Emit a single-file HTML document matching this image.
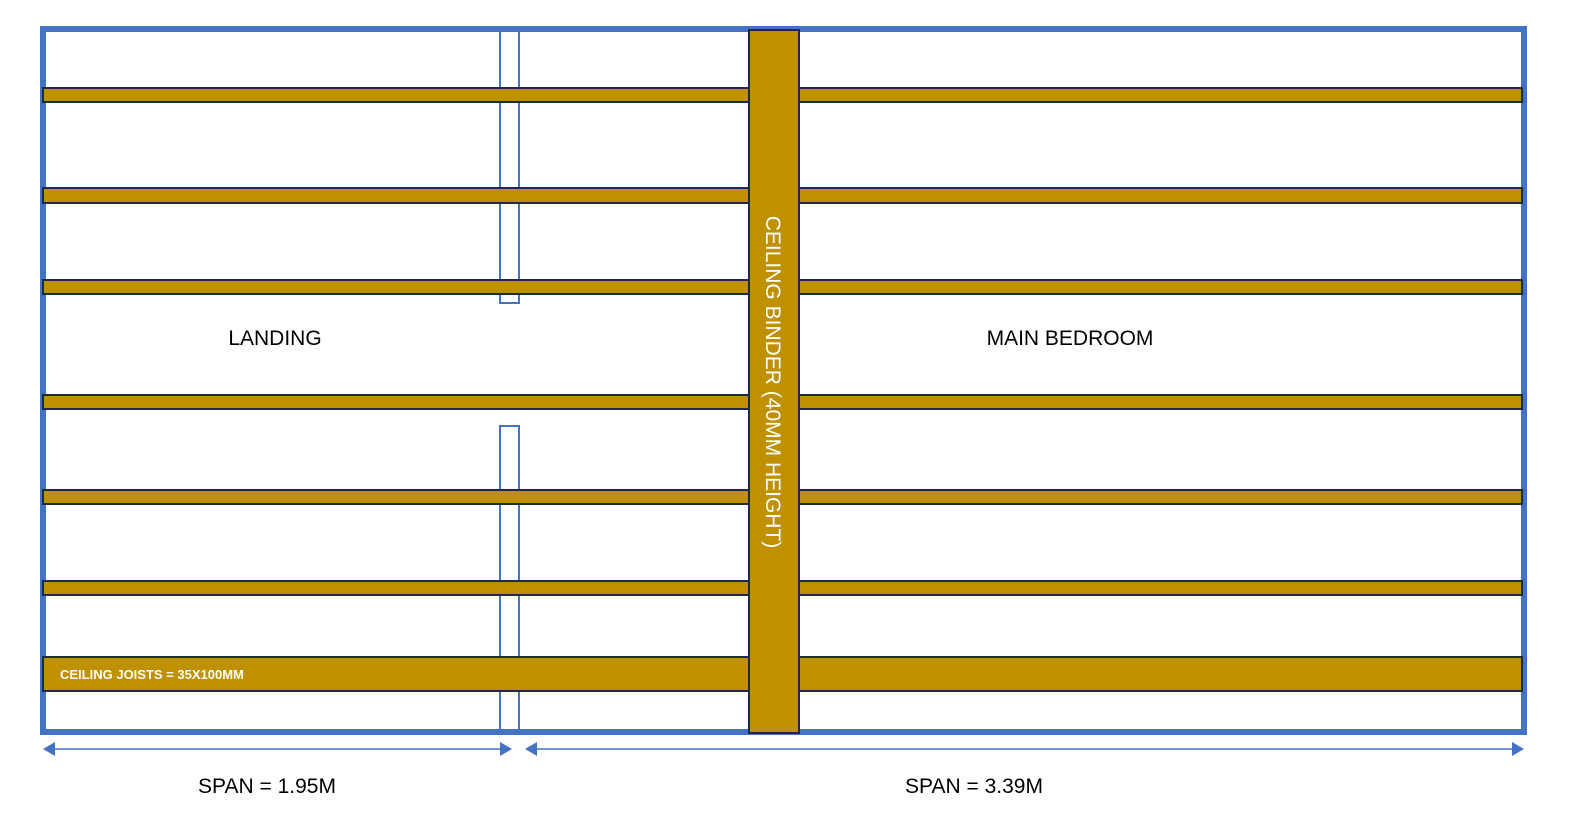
<!DOCTYPE html>
<html><head><meta charset="utf-8"><style>
html,body{margin:0;padding:0;background:#fff;width:1570px;height:829px;overflow:hidden}
svg{display:block}
text{font-family:"Liberation Sans",sans-serif}
</style></head><body>
<svg width="1570" height="829" viewBox="0 0 1570 829">
<rect x="43" y="29" width="1481" height="703" fill="none" stroke="#4472c4" stroke-width="6"/>
<rect x="500" y="31" width="19" height="272" fill="none" stroke="#4472c4" stroke-width="2"/>
<rect x="500" y="426" width="19" height="304" fill="none" stroke="#4472c4" stroke-width="2"/>
<g fill="#bf9000" stroke="#1b2a4a" stroke-width="2">
<rect x="43" y="88" width="1479" height="14"/>
<rect x="43" y="188" width="1479" height="15"/>
<rect x="43" y="280" width="1479" height="14"/>
<rect x="43" y="395" width="1479" height="14"/>
<rect x="43" y="490" width="1479" height="14"/>
<rect x="43" y="581" width="1479" height="14"/>
<rect x="43" y="657" width="1479" height="34"/>
<rect x="749" y="30" width="50" height="703"/>
</g>
<text x="60" y="679" font-size="13" font-weight="bold" fill="#fff">CEILING JOISTS = 35X100MM</text>
<text transform="translate(766,382) rotate(90)" text-anchor="middle" font-size="21" fill="#fff">CEILING BINDER (40MM HEIGHT)</text>
<text x="275" y="345" text-anchor="middle" font-size="21" fill="#000">LANDING</text>
<text x="1070" y="345" text-anchor="middle" font-size="21" fill="#000">MAIN BEDROOM</text>
<g stroke="#4472c4" stroke-width="1.5">
<line x1="52" y1="749" x2="502" y2="749"/>
<line x1="536" y1="749" x2="1514" y2="749"/>
</g>
<g fill="#4472c4">
<polygon points="43,749 55,742 55,756"/>
<polygon points="512,749 500,742 500,756"/>
<polygon points="525,749 537,742 537,756"/>
<polygon points="1524,749 1512,742 1512,756"/>
</g>
<text x="267" y="793" text-anchor="middle" font-size="21" fill="#000">SPAN = 1.95M</text>
<text x="974" y="793" text-anchor="middle" font-size="21" fill="#000">SPAN = 3.39M</text>
</svg>
</body></html>
